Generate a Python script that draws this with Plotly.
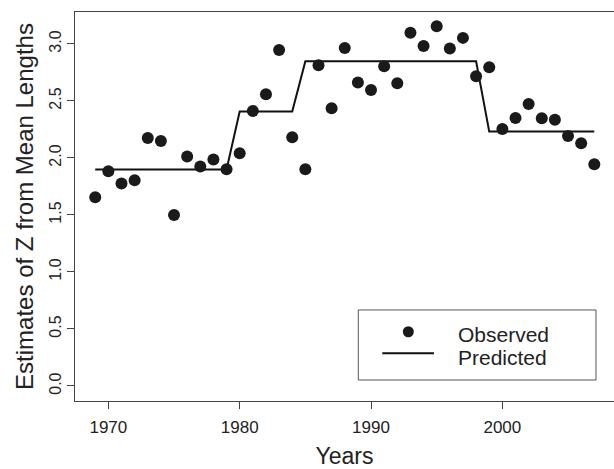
import plotly.graph_objects as go

years = list(range(1969, 2008))
observed = [1.655, 1.883, 1.775, 1.804, 2.175, 2.149, 1.50, 2.012, 1.924, 1.986,
            1.901, 2.041, 2.412, 2.559, 2.947, 2.181, 1.901, 2.813, 2.436, 2.965,
            2.661, 2.596, 2.804, 2.655, 3.099, 2.982, 3.155, 2.959, 3.053, 2.717,
            2.796, 2.254, 2.351, 2.474, 2.348, 2.336, 2.193, 2.129, 1.945]
predicted = [1.898] * 11 + [2.407] * 5 + [2.848] * 14 + [2.231] * 9

x_ticks = [1970, 1980, 1990, 2000]
y_ticks = [0.0, 0.5, 1.0, 1.5, 2.0, 2.5, 3.0]
y_tick_labels = ["0.0", "0.5", "1.0", "1.5", "2.0", "2.5", "3.0"]

FONT = "Liberation Sans, Arial, sans-serif"
TXT = "#222222"
AX = "#444444"

fig = go.Figure()
fig.add_trace(go.Scatter(x=years, y=predicted, mode="lines", name="Predicted",
                         line=dict(color="#111111", width=2), showlegend=False))
fig.add_trace(go.Scatter(x=years, y=observed, mode="markers", name="Observed",
                         marker=dict(color="#1a1a1a", size=12, line=dict(width=0)),
                         showlegend=False))

fig.update_layout(
    width=614, height=469,
    margin=dict(l=75, r=0, t=12, b=68),
    paper_bgcolor="white", plot_bgcolor="white",
    font=dict(family=FONT, color=TXT),
)
fig.update_xaxes(
    range=[1967.46, 2008.5], tickvals=x_ticks, ticktext=[str(v) for v in x_ticks],
    ticks="outside", ticklen=7, tickcolor=AX, tickwidth=1,
    showline=True, linecolor=AX, linewidth=1, mirror=True,
    showgrid=False, zeroline=False,
    tickfont=dict(size=17, color=TXT, family=FONT),
    ticklabelstandoff=4,
    title=dict(text="Years", font=dict(size=23, color=TXT, family=FONT), standoff=12),
)
fig.update_yaxes(
    range=[-0.1316, 3.28], tickvals=y_ticks, ticktext=y_tick_labels,
    ticks="outside", ticklen=7, tickcolor=AX, tickwidth=1, tickangle=-90,
    showline=True, linecolor=AX, linewidth=1, mirror=True,
    showgrid=False, zeroline=False,
    tickfont=dict(size=16, color=TXT, family=FONT),
    ticklabelstandoff=0,
    title=dict(text="Estimates of Z from Mean Lengths",
               font=dict(size=24, color=TXT, family=FONT), standoff=6),
)

# Legend box (drawn manually to match layout)
fig.add_shape(type="rect", xref="paper", yref="paper",
              x0=0.5256, x1=0.9666, y0=0.054, y1=0.234,
              line=dict(color="#555555", width=1), fillcolor="white")
fig.add_shape(type="circle", xref="paper", yref="paper",
              xsizemode="pixel", ysizemode="pixel",
              xanchor=0.6184, yanchor=0.178, x0=-5.5, x1=5.5, y0=-5.5, y1=5.5,
              line=dict(width=0), fillcolor="#1a1a1a")
fig.add_shape(type="line", xref="paper", yref="paper",
              x0=0.5701, x1=0.6660, y0=0.1226, y1=0.1226,
              line=dict(color="#111111", width=2))
fig.add_annotation(text="Observed", xref="paper", yref="paper", x=0.7060, y=0.1697,
                   xanchor="left", yanchor="middle", showarrow=False,
                   font=dict(size=21, color=TXT, family=FONT))
fig.add_annotation(text="Predicted", xref="paper", yref="paper", x=0.7060, y=0.1131,
                   xanchor="left", yanchor="middle", showarrow=False,
                   font=dict(size=21, color=TXT, family=FONT))

fig.write_html("out.html")
